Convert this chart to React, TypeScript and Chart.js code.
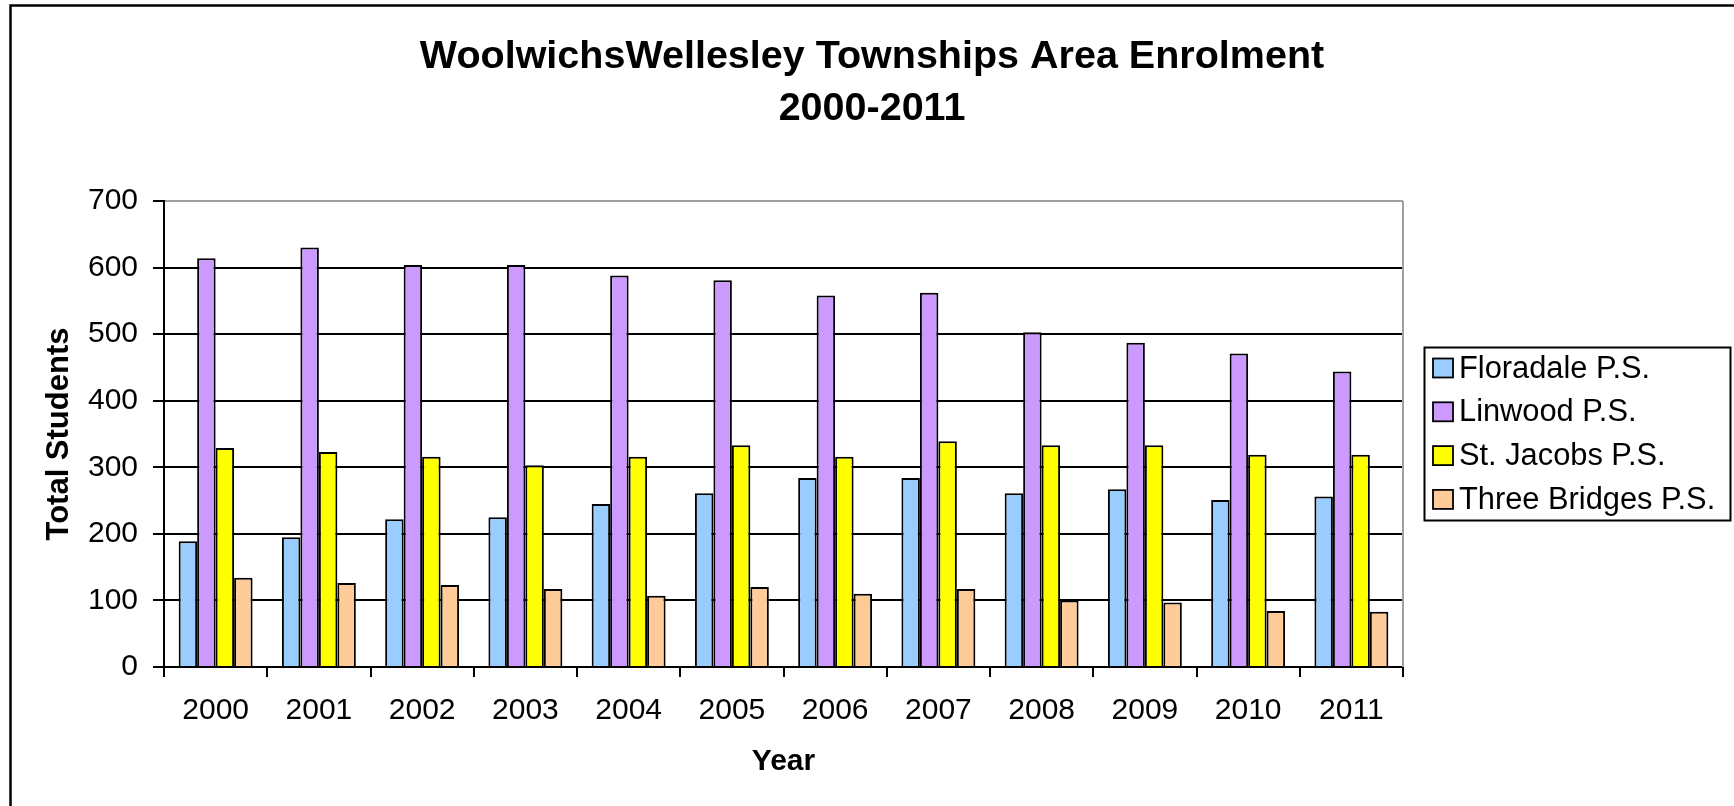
import React, { useEffect, useRef } from "react";
import { Chart, registerables } from "chart.js";

Chart.register(...registerables);

const years = ["2000", "2001", "2002", "2003", "2004", "2005", "2006", "2007", "2008", "2009", "2010", "2011"];
const floradale = [189, 195, 222, 225, 245, 261, 284, 284, 261, 267, 251, 256];
const linwood = [614, 630, 604, 604, 588, 581, 558, 562, 503, 487, 471, 444];
const stJacobs = [329, 323, 316, 303, 316, 333, 316, 339, 333, 333, 319, 319];
const threeBridges = [134, 126, 123, 117, 107, 120, 110, 117, 100, 97, 84, 83];
const seriesNames = ["Floradale P.S.", "Linwood P.S.", "St. Jacobs P.S.", "Three Bridges P.S."];
const titleLines = ["WoolwichsWellesley Townships Area Enrolment", "2000-2011"];
const yTitle = "Total Students";
const xTitle = "Year";

const FONT = "'Liberation Sans', Arial, Helvetica, sans-serif";
const COLORS = ["#99CCFF", "#CC99FF", "#FFFF00", "#FFCC99"];

const decorPlugin = {
  id: "decor",
  afterDraw(chart: any) {
    const ctx = chart.ctx;
    const area = chart.chartArea;
    ctx.save();
    // outer frame (cropped on right and bottom)
    ctx.strokeStyle = "#000";
    ctx.lineWidth = 2.5;
    ctx.strokeRect(10.5, 5.5, 1800, 900);
    // plot right border (grey)
    ctx.strokeStyle = "#a0a0a0";
    ctx.lineWidth = 2;
    ctx.beginPath();
    ctx.moveTo(area.right, area.top);
    ctx.lineTo(area.right, area.bottom);
    ctx.stroke();
    // title
    ctx.fillStyle = "#000";
    ctx.font = `bold 39.5px ${FONT}`;
    ctx.textAlign = "center";
    ctx.textBaseline = "alphabetic";
    ctx.fillText(titleLines[0], 872, 68);
    ctx.fillText(titleLines[1], 872, 120);
    // legend
    const lx = 1424, ly = 347, lw = 306, lh = 173;
    ctx.fillStyle = "#fff";
    ctx.fillRect(lx, ly, lw, lh);
    ctx.strokeStyle = "#000";
    ctx.lineWidth = 2;
    ctx.strokeRect(lx + 0.5, ly + 0.5, lw, lh);
    ctx.font = `30.8px ${FONT}`;
    ctx.textAlign = "left";
    chart.data.datasets.forEach((ds: any, i: number) => {
      const base = 377.5 + 43.8 * i;
      ctx.fillStyle = ds.backgroundColor;
      ctx.fillRect(1433, base - 19, 20, 19);
      ctx.strokeStyle = "#000";
      ctx.lineWidth = 1.8;
      ctx.strokeRect(1433, base - 19, 20, 19);
      ctx.fillStyle = "#000";
      ctx.fillText(ds.label, 1459, base);
    });
    ctx.restore();
  },
};

export default function App() {
  const ref = useRef<HTMLCanvasElement | null>(null);
  useEffect(() => {
    if (!ref.current) return;
    const values = [floradale, linwood, stJacobs, threeBridges];
    const chart = new Chart(ref.current, {
      type: "bar",
      data: {
        labels: years,
        datasets: values.map((v, i) => ({
          label: seriesNames[i],
          data: v,
          backgroundColor: COLORS[i],
          borderColor: "#000",
          borderWidth: 2,
          categoryPercentage: 0.716,
          barPercentage: 1,
        })),
      },
      options: {
        animation: false,
        responsive: false,
        devicePixelRatio: 1,
        layout: { padding: { top: 201, left: 10, right: 331, bottom: 0 } },
        plugins: {
          legend: { display: false },
          title: { display: false },
          tooltip: { enabled: false },
        },
        scales: {
          x: {
            offset: true,
            grid: {
              offset: true,
              drawOnChartArea: false,
              drawTicks: true,
              tickLength: 10,
              color: "#000",
              lineWidth: 2,
            },
            border: { display: true, color: "#000", width: 2 },
            ticks: {
              color: "#000",
              font: { size: 30, family: FONT },
              padding: 16,
              maxRotation: 0,
              autoSkip: false,
            },
            title: {
              display: true,
              text: xTitle,
              color: "#000",
              font: { size: 30, weight: "bold", family: FONT },
              padding: { top: 0, bottom: 26 },
            },
            afterFit: (s: any) => {
              s.height = 139;
            },
          },
          y: {
            min: 0,
            max: 700,
            ticks: {
              stepSize: 100,
              color: "#000",
              font: { size: 30, family: FONT },
              padding: 15,
            },
            grid: {
              color: (c: any) => (c.tick && c.tick.value === 700 ? "#a0a0a0" : "#000"),
              tickColor: "#000",
              lineWidth: 2,
              tickLength: 11,
              drawTicks: true,
            },
            border: { display: true, color: "#000", width: 2 },
            title: {
              display: true,
              text: yTitle,
              color: "#000",
              font: { size: 31, weight: "bold", family: FONT },
              padding: { top: 31, bottom: 0 },
            },
            afterFit: (s: any) => {
              s.width = 154;
            },
          },
        },
      } as any,
      plugins: [decorPlugin],
    });
    return () => chart.destroy();
  }, []);
  return (
    <div style={{ position: "fixed", left: 0, top: 0, width: 1734, height: 806, background: "#fff" }}>
      <canvas ref={ref} width={1734} height={806} style={{ width: 1734, height: 806, display: "block" }} />
    </div>
  );
}
